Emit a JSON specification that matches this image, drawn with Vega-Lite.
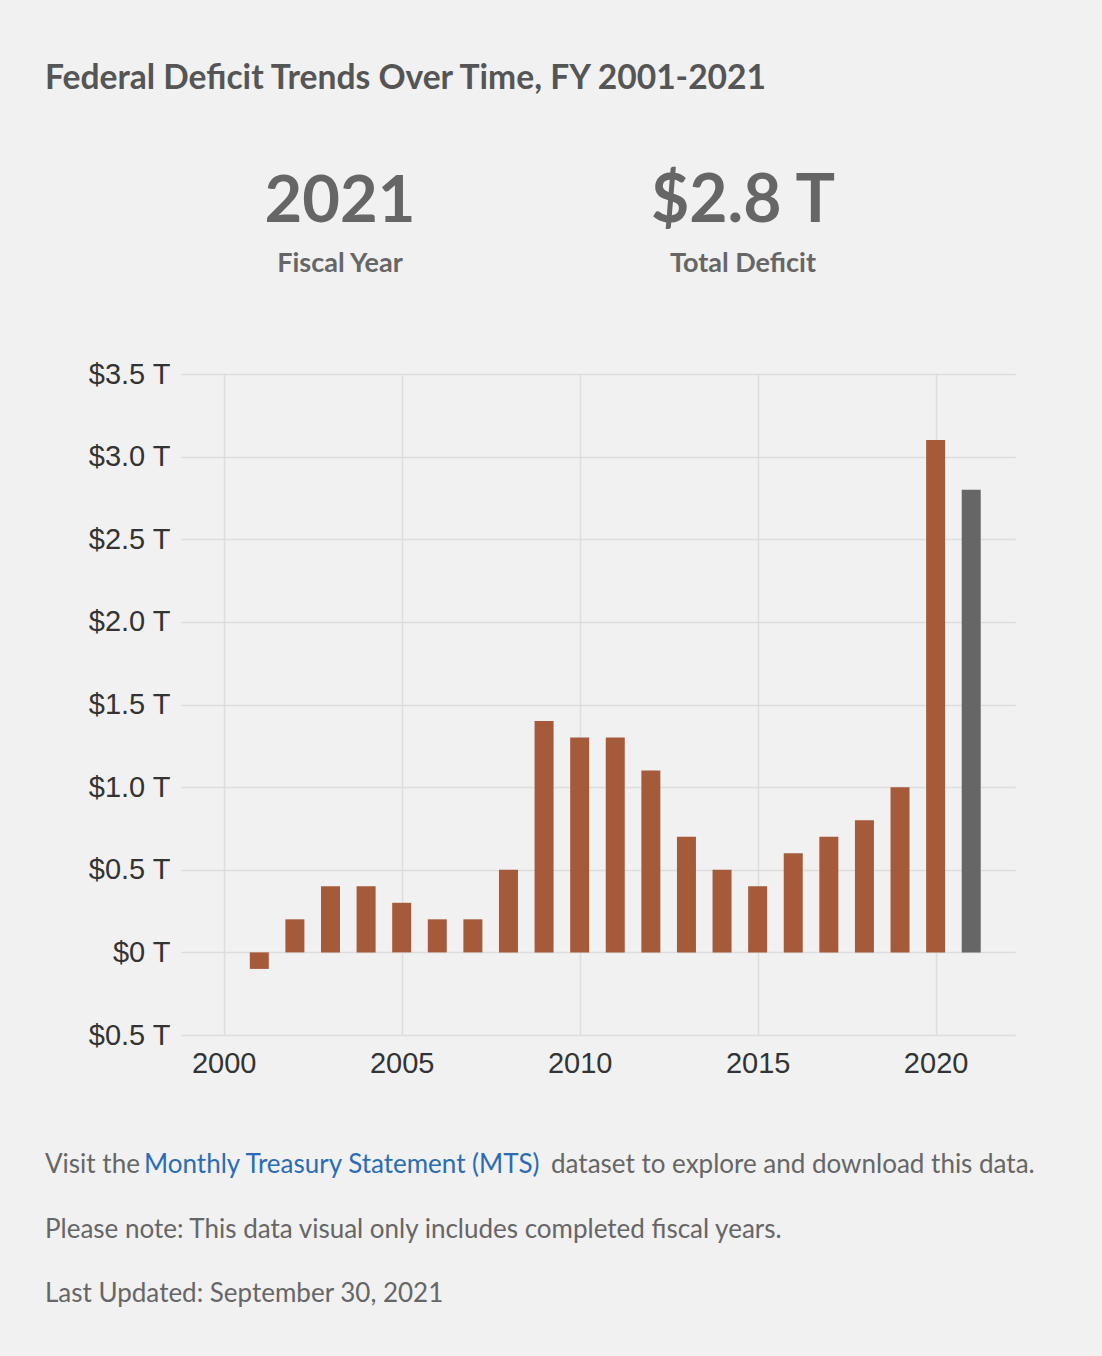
{
  "$schema": "https://vega.github.io/schema/vega-lite/v6.json",
  "autosize": {"type": "none"},
  "width": 834,
  "height": 661,
  "padding": {"left": 181, "top": 374, "right": 87, "bottom": 321},
  "background": "#f1f1f1",
  "config": {"view": {"stroke": null}},
  "layer": [
    {
      "data": {"values": [
        {"year": 2001, "deficit": -0.1},
        {"year": 2002, "deficit": 0.2},
        {"year": 2003, "deficit": 0.4},
        {"year": 2004, "deficit": 0.4},
        {"year": 2005, "deficit": 0.3},
        {"year": 2006, "deficit": 0.2},
        {"year": 2007, "deficit": 0.2},
        {"year": 2008, "deficit": 0.5},
        {"year": 2009, "deficit": 1.4},
        {"year": 2010, "deficit": 1.3},
        {"year": 2011, "deficit": 1.3},
        {"year": 2012, "deficit": 1.1},
        {"year": 2013, "deficit": 0.7},
        {"year": 2014, "deficit": 0.5},
        {"year": 2015, "deficit": 0.4},
        {"year": 2016, "deficit": 0.6},
        {"year": 2017, "deficit": 0.7},
        {"year": 2018, "deficit": 0.8},
        {"year": 2019, "deficit": 1.0},
        {"year": 2020, "deficit": 3.1},
        {"year": 2021, "deficit": 2.8}
      ]},
      "mark": {"type": "bar", "width": 19},
      "encoding": {
        "x": {
          "field": "year", "type": "quantitative",
          "scale": {"domain": [1998.8, 2022.23], "nice": false, "zero": false, "padding": 0},
          "axis": {
            "title": null, "values": [2000, 2005, 2010, 2015, 2020], "format": "d",
            "grid": true, "gridColor": "#dddddd", "gridWidth": 1.5,
            "domain": false, "ticks": false, "labelPadding": 14,
            "labelFont": "Liberation Sans", "labelFontSize": 29, "labelColor": "#333333"
          }
        },
        "y": {
          "field": "deficit", "type": "quantitative",
          "scale": {"domain": [-0.5, 3.5], "nice": false},
          "axis": {
            "title": null, "values": [-0.5, 0, 0.5, 1, 1.5, 2, 2.5, 3, 3.5],
            "labelExpr": "datum.value == 0 ? '$0 T' : '$' + format(abs(datum.value), '.1f') + ' T'",
            "grid": true, "gridColor": "#dddddd", "gridWidth": 1.5,
            "domain": false, "ticks": false, "labelPadding": 11,
            "labelFont": "Liberation Sans", "labelFontSize": 29, "labelColor": "#333333"
          }
        },
        "color": {
          "condition": {"test": "datum.year == 2021", "value": "#666666"},
          "value": "#a55a3a"
        }
      }
    },
    {
      "data": {"values": [{}]},
      "layer": [
        {"mark": {"type": "text", "text": "Federal Deficit Trends Over Time, FY 2001-2021", "x": -136, "y": -285, "align": "left", "baseline": "alphabetic", "font": "Lato", "fontWeight": "bold", "fontSize": 33.6, "color": "#555555"}, "encoding": {}},
        {"mark": {"type": "text", "text": "2021", "x": 159, "y": -152, "align": "center", "baseline": "alphabetic", "font": "Lato", "fontWeight": "bold", "fontSize": 65, "color": "#666666"}, "encoding": {}},
        {"mark": {"type": "text", "text": "Fiscal Year", "x": 159, "y": -102, "align": "center", "baseline": "alphabetic", "font": "Lato", "fontWeight": "bold", "fontSize": 27, "color": "#666666"}, "encoding": {}},
        {"mark": {"type": "text", "text": "$2.8 T", "x": 562, "y": -152, "align": "center", "baseline": "alphabetic", "font": "Lato", "fontWeight": "bold", "fontSize": 66, "color": "#666666"}, "encoding": {}},
        {"mark": {"type": "text", "text": "Total Deficit", "x": 562, "y": -102, "align": "center", "baseline": "alphabetic", "font": "Lato", "fontWeight": "bold", "fontSize": 27, "color": "#666666"}, "encoding": {}},
        {"mark": {"type": "text", "text": "Visit the", "x": -136, "y": 799, "align": "left", "baseline": "alphabetic", "font": "Lato", "fontSize": 26, "color": "#666666"}, "encoding": {}},
        {"mark": {"type": "text", "text": "Monthly Treasury Statement (MTS)", "x": -37, "y": 799, "align": "left", "baseline": "alphabetic", "font": "Lato", "fontSize": 26, "color": "#2b6cb5"}, "encoding": {}},
        {"mark": {"type": "text", "text": "dataset to explore and download this data.", "x": 370, "y": 799, "align": "left", "baseline": "alphabetic", "font": "Lato", "fontSize": 26, "color": "#666666"}, "encoding": {}},
        {"mark": {"type": "text", "text": "Please note: This data visual only includes completed fiscal years.", "x": -136, "y": 864, "align": "left", "baseline": "alphabetic", "font": "Lato", "fontSize": 26, "color": "#666666"}, "encoding": {}},
        {"mark": {"type": "text", "text": "Last Updated: September 30, 2021", "x": -136, "y": 928, "align": "left", "baseline": "alphabetic", "font": "Lato", "fontSize": 26, "color": "#666666"}, "encoding": {}}
      ]
    }
  ]
}
